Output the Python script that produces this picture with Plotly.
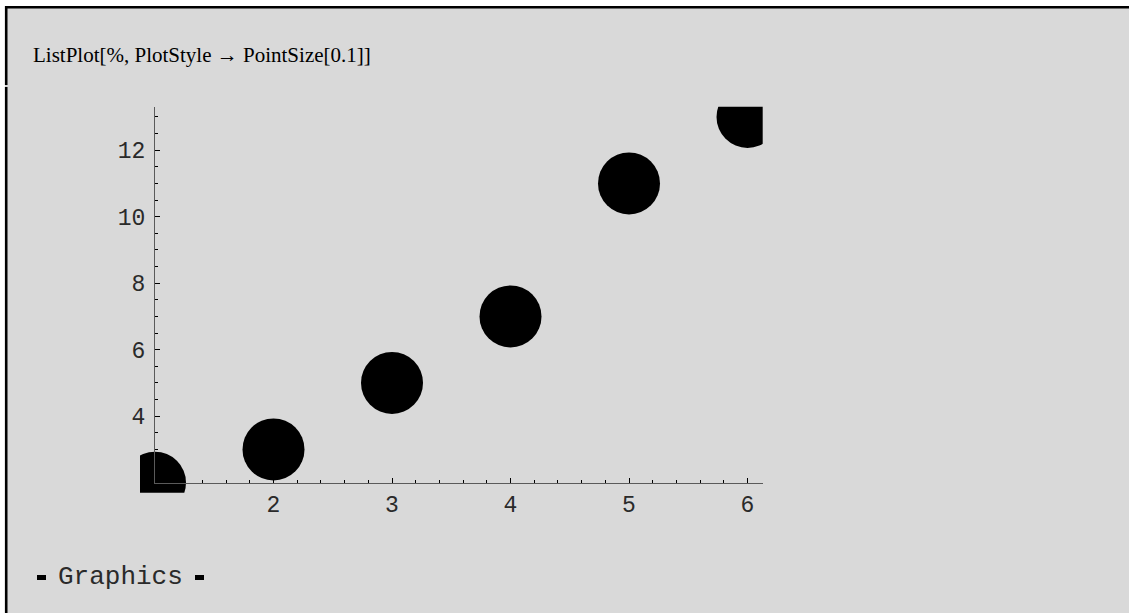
import plotly.graph_objects as go

# Data: the first six primes plotted against their index
x_vals = [1, 2, 3, 4, 5, 6]
y_vals = [2, 3, 5, 7, 11, 13]

x_ticks = [2, 3, 4, 5, 6]
y_ticks = [4, 6, 8, 10, 12]

W, H = 1129, 613

def fx(px):
    return px / W

def fy(py):
    return 1 - py / H

# plot-area pixel extents (clip region) and the axis extents
clip_l, clip_r, clip_t, clip_b = 140.0, 762.7, 106.7, 492.7
ax_l, ax_b = 155.0, 482.7

# data ranges derived from a common pixel scale
px_per_x = 118.5
px_per_y = 33.25
x0 = 1 - (ax_l - clip_l) / px_per_x
x1 = 1 + (clip_r - ax_l) / px_per_x
y0 = 2 - (clip_b - ax_b) / px_per_y
y1 = 2 + (ax_b - clip_t) / px_per_y

mono = "Courier New, Liberation Mono, monospace"
tick_font = dict(family=mono, size=23, color="#2a2a2a")
no_line = dict(width=0, color="rgba(0,0,0,0)")

fig = go.Figure()

# the points, clipped to the plot area
fig.add_trace(go.Scatter(
    x=x_vals, y=y_vals, mode="markers",
    marker=dict(size=62, color="black", line=dict(width=0)),
    cliponaxis=True, hoverinfo="skip", showlegend=False,
    xaxis="x", yaxis="y",
))

# invisible helper trace so the decorative axes get drawn
fig.add_trace(go.Scatter(
    x=[None], y=[None], mode="markers", showlegend=False,
    xaxis="x2", yaxis="y2",
))

bg = "#d9d9d9"

fig.update_layout(
    width=W, height=H,
    margin=dict(l=0, r=0, t=0, b=0),
    paper_bgcolor="white",
    plot_bgcolor="rgba(0,0,0,0)",
    xaxis=dict(domain=[fx(clip_l), fx(clip_r)], range=[x0, x1],
               visible=False, anchor="y"),
    yaxis=dict(domain=[fy(clip_b), fy(clip_t)], range=[y0, y1],
               visible=False, anchor="x"),
    xaxis2=dict(domain=[fx(ax_l), fx(clip_r)], range=[1, x1], anchor="y2",
                showline=True, linecolor="#5a5a5a", linewidth=1,
                showgrid=False, zeroline=False,
                tickmode="array", tickvals=x_ticks,
                ticktext=[str(v) for v in x_ticks],
                ticks="inside", ticklen=5, tickwidth=1, tickcolor="black",
                minor=dict(tickmode="linear", tick0=1, dtick=0.2, ticks="inside",
                           ticklen=3, tickwidth=1, tickcolor="black", showgrid=False),
                tickfont=tick_font, ticklabelstandoff=1),
    yaxis2=dict(domain=[fy(ax_b), fy(clip_t)], range=[2, y1], anchor="x2",
                showline=True, linecolor="#5a5a5a", linewidth=1,
                showgrid=False, zeroline=False,
                tickmode="array", tickvals=y_ticks,
                ticktext=[str(v) for v in y_ticks],
                ticks="inside", ticklen=5, tickwidth=1, tickcolor="black",
                minor=dict(tickmode="linear", tick0=2, dtick=0.5, ticks="inside",
                           ticklen=3, tickwidth=1, tickcolor="black", showgrid=False),
                tickfont=tick_font, ticklabelstandoff=4),
    shapes=[
        # notebook cell background
        dict(type="rect", xref="paper", yref="paper", layer="below",
             x0=fx(5), x1=1.02, y0=-0.02, y1=fy(6),
             fillcolor=bg, line=no_line),
        # cell frame: top and left edges
        dict(type="line", xref="paper", yref="paper",
             x0=fx(5), x1=1.02, y0=fy(7.3), y1=fy(7.3),
             line=dict(color="black", width=2.6)),
        dict(type="line", xref="paper", yref="paper",
             x0=fx(6.2), x1=fx(6.2), y0=fy(6), y1=fy(85),
             line=dict(color="black", width=2.6)),
        dict(type="line", xref="paper", yref="paper",
             x0=fx(6.2), x1=fx(6.2), y0=fy(87), y1=-0.02,
             line=dict(color="black", width=2.6)),
        # output-cell markers around "Graphics"
        dict(type="rect", xref="paper", yref="paper",
             x0=fx(37), x1=fx(46), y0=fy(580), y1=fy(575),
             fillcolor="black", line=no_line),
        dict(type="rect", xref="paper", yref="paper",
             x0=fx(195), x1=fx(204), y0=fy(580), y1=fy(575),
             fillcolor="black", line=no_line),
    ],
    annotations=[
        dict(text="ListPlot[%, PlotStyle \u2192 PointSize[0.1]]",
             xref="paper", yref="paper", x=fx(31), y=fy(55),
             xanchor="left", yanchor="middle", showarrow=False,
             font=dict(family="Times New Roman, Liberation Serif, serif", size=21, color="black")),
        dict(text="Graphics",
             xref="paper", yref="paper", x=fx(56), y=fy(577),
             xanchor="left", yanchor="middle", showarrow=False,
             font=dict(family=mono, size=26, color="#2a2a2a")),
    ],
)

fig.write_html("out.html")
